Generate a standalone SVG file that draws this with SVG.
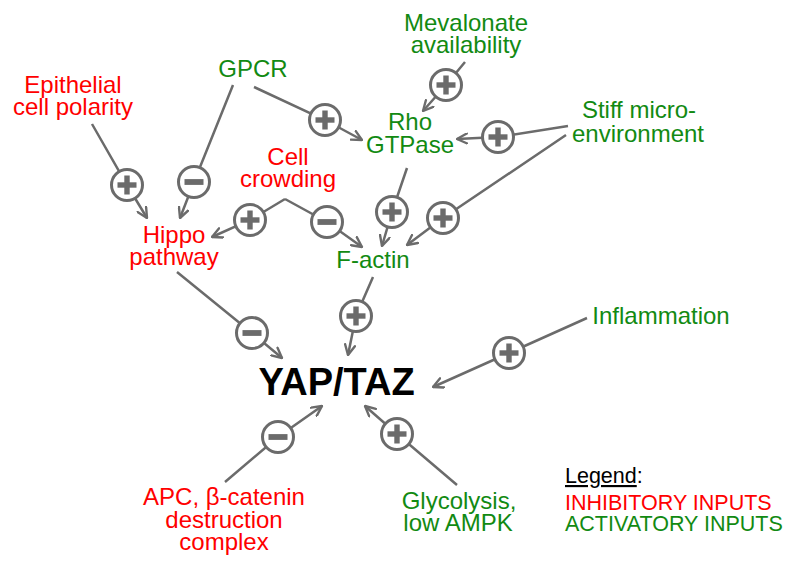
<svg xmlns="http://www.w3.org/2000/svg" xmlns:xlink="http://www.w3.org/1999/xlink" width="800" height="570" viewBox="0 0 800 570">
<defs>
<style>
text{font-family:"Liberation Sans",Arial,sans-serif;text-anchor:middle}
.lbl{font-size:24px}
.red{fill:#ff0000}
.grn{fill:#128a12}
.conn{fill:none;stroke:#6b6b6b;stroke-width:2.5;marker-end:url(#arr)}
.ring{fill:#ffffff;stroke:#6b6b6b;stroke-width:3}
.bar{fill:#6b6b6b}
.leg{font-size:21.5px;text-anchor:start}
</style>
<marker id="arr" viewBox="0 0 12 12" refX="11" refY="6" markerWidth="12" markerHeight="12" markerUnits="userSpaceOnUse" orient="auto">
<path d="M1,1 L11,6 L1,11" fill="none" stroke="#6b6b6b" stroke-width="2.4" stroke-linecap="round" stroke-linejoin="round"/>
</marker>
<g id="plus">
<circle r="15.5" class="ring"/>
<rect x="-9.5" y="-2.7" width="19" height="5.4" class="bar"/>
<rect x="-2.7" y="-9.5" width="5.4" height="19" class="bar"/>
</g>
<g id="minus">
<circle r="15.5" class="ring"/>
<rect x="-9.5" y="-2.9" width="19" height="5.8" class="bar"/>
</g>
</defs>
<rect width="800" height="570" fill="#ffffff"/>

<g id="connectors">
<path class="conn" d="M92,124 L127,185 L147,218"/>
<path class="conn" d="M233,85 L194,182 L180,218"/>
<path class="conn" d="M254,87 L325,120 L362,140"/>
<path class="conn" d="M465,62 L446,85 L423,111"/>
<path class="conn" d="M568,126 L498,137 L457,139"/>
<path class="conn" d="M285,199 L250,220 L212,237"/>
<path class="conn" d="M285,199 L327,222 L362,247"/>
<path class="conn" d="M407,168 L392,212 L382,246"/>
<path class="conn" d="M566,135 L443,218 L407,245"/>
<path class="conn" d="M177,272 L252,333 L282,358"/>
<path class="conn" d="M373,277 L356,316 L348,355"/>
<path class="conn" d="M587,318 L509,353 L433,387"/>
<path class="conn" d="M225,482 L278,437 L322,406"/>
<path class="conn" d="M457,485 L397,434 L365,406"/>
<use xlink:href="#plus" x="127" y="185"/>
<use xlink:href="#minus" x="194" y="182"/>
<use xlink:href="#plus" x="325" y="120"/>
<use xlink:href="#plus" x="446" y="85"/>
<use xlink:href="#plus" x="498" y="137"/>
<use xlink:href="#plus" x="250" y="220"/>
<use xlink:href="#minus" x="327" y="222"/>
<use xlink:href="#plus" x="392" y="212"/>
<use xlink:href="#plus" x="443" y="218"/>
<use xlink:href="#minus" x="252" y="333"/>
<use xlink:href="#plus" x="356" y="316"/>
<use xlink:href="#plus" x="509" y="353"/>
<use xlink:href="#minus" x="278" y="437"/>
<use xlink:href="#plus" x="397" y="434"/>
</g>

<g id="mevalonate"><text class="lbl grn"><tspan x="466" y="31">Mevalonate</tspan><tspan x="466" y="53">availability</tspan></text></g>
<g id="epithelial"><text class="lbl red"><tspan x="73" y="93">Epithelial</tspan><tspan x="73" y="115">cell polarity</tspan></text></g>
<g id="gpcr"><text class="lbl grn" x="253" y="77">GPCR</text></g>
<g id="rho"><text class="lbl grn"><tspan x="410" y="130">Rho</tspan><tspan x="410" y="153">GTPase</tspan></text></g>
<g id="stiff"><text class="lbl grn"><tspan x="639" y="118">Stiff micro-</tspan><tspan x="638" y="142">environment</tspan></text></g>
<g id="crowding"><text class="lbl red"><tspan x="288" y="165">Cell</tspan><tspan x="288" y="187">crowding</tspan></text></g>
<g id="hippo"><text class="lbl red"><tspan x="174" y="243">Hippo</tspan><tspan x="174" y="265">pathway</tspan></text></g>
<g id="factin"><text class="lbl grn" x="373" y="268">F-actin</text></g>
<g id="inflammation"><text class="lbl grn" x="661" y="324">Inflammation</text></g>
<g id="yaptaz"><text x="336.5" y="395" style="font-size:38px;font-weight:bold;fill:#000">YAP/TAZ</text></g>
<g id="apc"><text class="lbl red"><tspan x="224" y="505">APC, β-catenin</tspan><tspan x="224" y="528">destruction</tspan><tspan x="224" y="550">complex</tspan></text></g>
<g id="glycolysis"><text class="lbl grn"><tspan x="459" y="509">Glycolysis,</tspan><tspan x="458" y="531">low AMPK</tspan></text></g>
<g id="legend">
<text class="leg" x="565" y="483" fill="#000"><tspan text-decoration="underline">Legend</tspan>:</text>
<text class="leg red" x="565" y="510">INHIBITORY INPUTS</text>
<text class="leg grn" x="565" y="531">ACTIVATORY INPUTS</text>
</g>
</svg>
